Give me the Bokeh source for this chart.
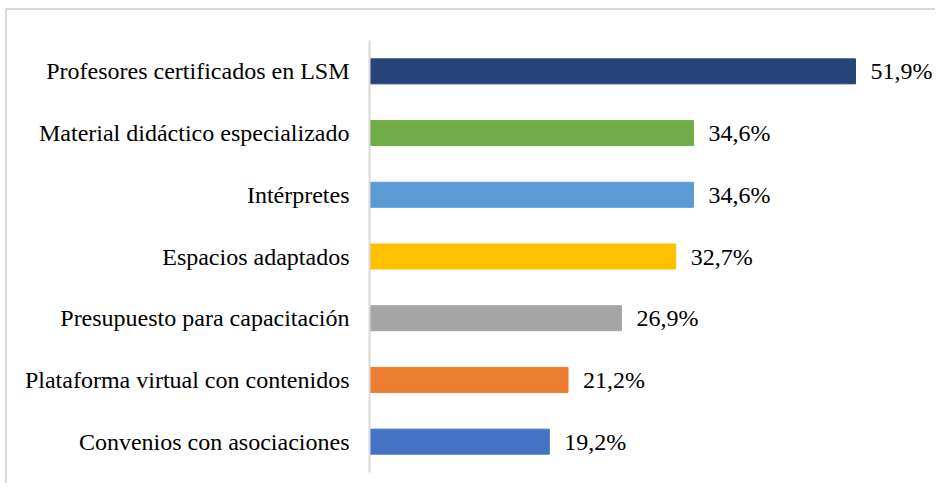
from bokeh.plotting import figure
from bokeh.models import Range1d, ColumnDataSource, FactorRange
from bokeh.core.properties import value
from bokeh.embed import file_html
from bokeh.resources import INLINE

categories = [
    "Profesores certificados en LSM",
    "Material didáctico especializado",
    "Intérpretes",
    "Espacios adaptados",
    "Presupuesto para capacitación",
    "Plataforma virtual con contenidos",
    "Convenios con asociaciones",
]
values = [51.9, 34.6, 34.6, 32.7, 26.9, 21.2, 19.2]
colors = ["#264478", "#70AD47", "#5B9BD5", "#FFC000", "#A5A5A5", "#ED7D31", "#4472C4"]
labels = ["51,9%", "34,6%", "34,6%", "32,7%", "26,9%", "21,2%", "19,2%"]

src = ColumnDataSource(dict(cat=categories, val=values, col=colors, lab=labels))

W, H = 930, 475
frame_left, frame_right = 362, 925
px_per_unit = (855 - 369) / 51.9
xmax = (frame_right - frame_left) / px_per_unit

FONT = "Liberation Serif"

p = figure(
    width=W, height=H,
    y_range=FactorRange(*reversed(categories)),
    x_range=Range1d(0, xmax),
    output_backend="svg", toolbar_location=None,
    min_border_left=frame_left, min_border_right=W - frame_right,
    min_border_top=30, min_border_bottom=H - 462,
)
p.hbar(y="cat", right="val", left=0, height=0.405, color="col", source=src)
p.text(x="val", y="cat", text="lab", x_offset=15, text_baseline="middle",
       text_align="left", text_font=value(FONT),
       text_font_size="24px", text_color="#000000", source=src)

p.xaxis.visible = False
p.xgrid.visible = False
p.ygrid.visible = False
p.outline_line_color = None
ax = p.yaxis[0]
ax.axis_line_color = "#d9d9d9"
ax.axis_line_width = 2
ax.major_tick_line_color = None
ax.minor_tick_line_color = None
ax.major_tick_out = 0
ax.major_label_standoff = 20
ax.major_label_text_font = FONT
ax.major_label_text_font_size = "24px"
ax.major_label_text_color = "#000000"
p.y_range.range_padding = 0
p.styles = {"border-left": "2px solid #d9d9d9", "border-top": "2px solid #d9d9d9",
            "margin-left": "5px", "margin-top": "8px"}

open("out.html", "w").write(file_html(p, INLINE))
